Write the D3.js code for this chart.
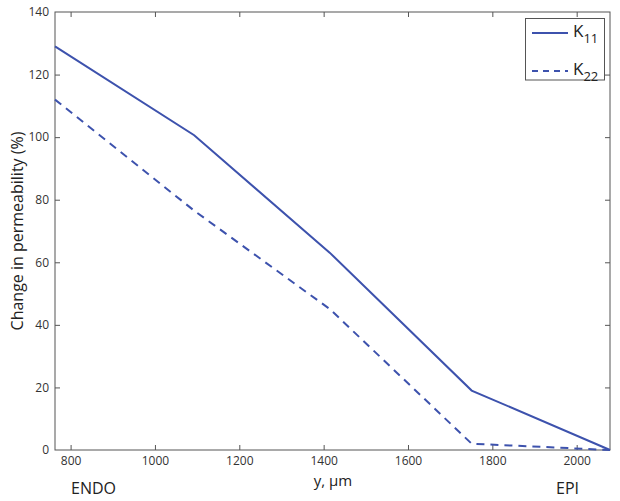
<!DOCTYPE html>
<html><head><meta charset="utf-8">
<script src="https://cdn.jsdelivr.net/npm/d3@7"></script>
<style>body{margin:0;background:#fff}svg{display:block}text{font-family:"Open Sans",Lato,sans-serif}</style>
</head><body><svg id="c" width="620" height="501"></svg>
<script>
const depth = [763, 1093, 1415, 1751, 2079];
const k11 = [129, 100.6, 63, 19, 0];
const k22 = [112, 76.5, 45, 2, 0];
const xTicks = [800, 1000, 1200, 1400, 1600, 1800, 2000];
const yTicks = [0, 20, 40, 60, 80, 100, 120, 140];
const seriesNames = ["11", "22"];

const svg = d3.select("#c");
const L = 55, R = 610, T = 12, B = 450;
const x = d3.scaleLinear().domain([763, 2079]).range([L, R]);
const y = d3.scaleLinear().domain([0, 140]).range([B, T]);
const col = "#3d52ad", axc = "#555";

svg.append("rect").attr("x", L).attr("y", T).attr("width", R - L).attr("height", B - T)
  .attr("fill", "none").attr("stroke", axc).attr("stroke-width", 1);

const fmt = d3.format("d");
const gx = svg.append("g").attr("transform", `translate(0,${B})`)
  .call(d3.axisBottom(x).tickValues(xTicks).tickFormat(fmt).tickSizeInner(-5).tickSizeOuter(0).tickPadding(6));
const gxt = svg.append("g").attr("transform", `translate(0,${T})`)
  .call(d3.axisTop(x).tickValues(xTicks).tickSizeInner(-5).tickSizeOuter(0).tickFormat(""));
const gy = svg.append("g").attr("transform", `translate(${L},0)`)
  .call(d3.axisLeft(y).tickValues(yTicks).tickFormat(fmt).tickSizeInner(-5).tickSizeOuter(0).tickPadding(6));
const gyr = svg.append("g").attr("transform", `translate(${R},0)`)
  .call(d3.axisRight(y).tickValues(yTicks).tickSizeInner(-5).tickSizeOuter(0).tickFormat(""));
[gx, gxt, gy, gyr].forEach(g => {
  g.select(".domain").remove();
  g.selectAll("line").attr("stroke", axc);
  g.selectAll("text").attr("font-size", 12).attr("fill", "#333");
});
gy.selectAll(".tick").filter(d => d === 0 || d === 140).select("line").remove();
gyr.selectAll(".tick").filter(d => d === 0 || d === 140).select("line").remove();

const line = d3.line().x((d, i) => x(depth[i])).y(d => y(d));
svg.append("path").datum(k11).attr("d", line).attr("fill", "none").attr("stroke", col).attr("stroke-width", 2);
svg.append("path").datum(k22).attr("d", line).attr("fill", "none").attr("stroke", col).attr("stroke-width", 2)
  .attr("stroke-dasharray", "8,6");

svg.append("text").attr("transform", "translate(23,231) rotate(-90)").attr("text-anchor", "middle")
  .attr("font-size", 16).attr("fill", "#222").text("Change in permeability (%)");
svg.append("text").attr("x", 333).attr("y", 486).attr("text-anchor", "middle")
  .attr("font-size", 15).attr("fill", "#222").text("y, \u03bcm");
svg.append("text").attr("x", 71).attr("y", 494).attr("font-size", 16).attr("fill", "#222").text("ENDO");
svg.append("text").attr("x", 556).attr("y", 494).attr("font-size", 16).attr("fill", "#222").text("EPI");

const lg = svg.append("g");
lg.append("rect").attr("x", 525.5).attr("y", 18.5).attr("width", 79).attr("height", 61.5)
  .attr("fill", "#fff").attr("stroke", axc);
seriesNames.forEach((s, i) => {
  const yy = 33 + i * 38;
  lg.append("line").attr("x1", 532).attr("x2", 568).attr("y1", yy).attr("y2", yy)
    .attr("stroke", col).attr("stroke-width", 2).attr("stroke-dasharray", i ? "6,5" : null);
  const t = lg.append("text").attr("x", 573).attr("y", yy + 4).attr("font-size", 17).attr("fill", "#222");
  t.append("tspan").text("K");
  t.append("tspan").attr("dy", 6).attr("font-size", 13).text(s);
});
</script></body></html>
